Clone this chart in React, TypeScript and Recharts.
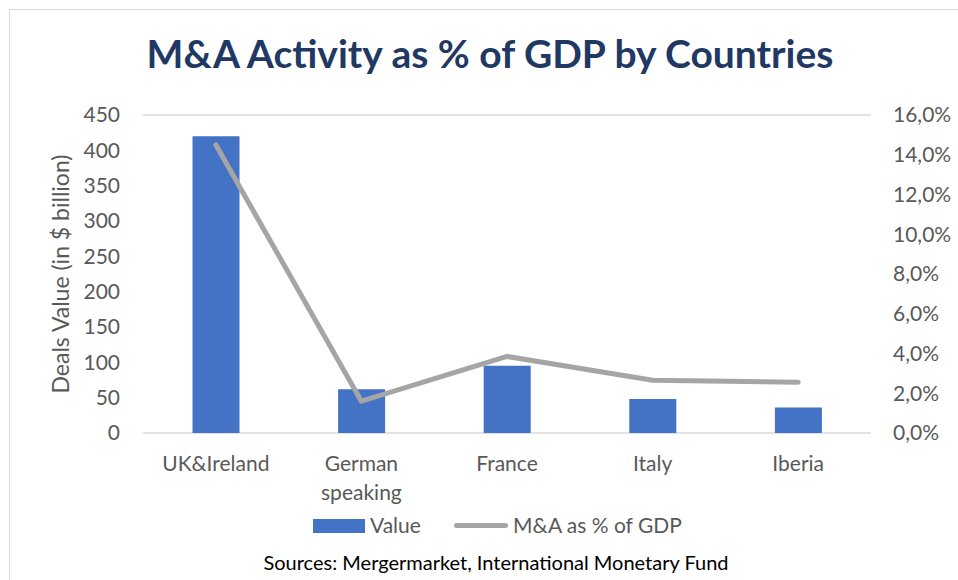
import { ComposedChart, Bar, Line, XAxis, YAxis, CartesianGrid, Label } from 'recharts'

const FONT = "Lato, 'Open Sans', sans-serif"
const AXIS_GREY = '#595959'
const BAR_BLUE = '#4472C4'
const LINE_GREY = '#A5A5A5'

const countries = ['UK&Ireland', 'German speaking', 'France', 'Italy', 'Iberia']
const dealsValue = [420, 62, 95, 48, 36]
const gdpShare = [14.5, 1.6, 3.85, 2.65, 2.55]
const leftTicks = [0, 50, 100, 150, 200, 250, 300, 350, 400, 450]
const rightTicks = [0, 2, 4, 6, 8, 10, 12, 14, 16]

const SERIES_BAR = 'Value'
const SERIES_LINE = 'M&A as % of GDP'

const data = countries.map((name, i) => ({
  name,
  value: dealsValue[i],
  pct: gdpShare[i],
}))

const pctFormat = (v: number) => v.toFixed(1).replace('.', ',') + '%'

function CategoryTick({ x, y, payload }: any) {
  const lines = String(payload.value).split(' ')
  return (
    <text x={x} y={y} textAnchor="middle" fill={AXIS_GREY} fontSize={21} fontFamily={FONT}>
      {lines.map((ln, i) => (
        <tspan key={i} x={x} dy={i === 0 ? 24 : 29}>{ln}</tspan>
      ))}
    </text>
  )
}

function LeftAxisTitle({ viewBox }: any) {
  const cy = viewBox.y + viewBox.height / 2
  return (
    <text
      x={69}
      y={cy}
      transform={`rotate(-90 69 ${cy})`}
      textAnchor="middle"
      fill={AXIS_GREY}
      fontSize={23}
      fontFamily={FONT}
    >
      Deals Value (in $ billion)
    </text>
  )
}

export default function App() {
  return (
    <div style={{ position: 'absolute', left: 0, top: 0, width: 958, height: 580, background: '#fff', overflow: 'hidden' }}>
      {/* chart frame, cut off at the right and bottom like the screenshot */}
      <div style={{ position: 'absolute', left: 9, top: 9, width: 980, height: 600, border: '1px solid #d9d9d9' }} />

      <div style={{
        position: 'absolute',
        left: 0,
        top: 34,
        width: 980,
        textAlign: 'center',
        fontFamily: FONT,
        fontWeight: 700,
        fontSize: 39,
        lineHeight: 1,
        color: '#1F3864',
      }}>
        M&amp;A Activity as % of GDP by Countries
      </div>

      <div style={{ position: 'absolute', left: 0, top: 0 }}>
        <ComposedChart
          width={958}
          height={520}
          data={data}
          margin={{ top: 115, right: 0, bottom: 27, left: 0 }}
          barCategoryGap="34%"
        >
          <CartesianGrid vertical={false} stroke="#d9d9d9" strokeWidth={1.3} />
          <XAxis
            dataKey="name"
            axisLine={false}
            tickLine={false}
            tickMargin={8}
            height={60}
            interval={0}
            tick={<CategoryTick />}
          />
          <YAxis
            yAxisId="left"
            width={143}
            domain={[0, 450]}
            ticks={leftTicks}
            axisLine={false}
            tickLine={false}
            tickMargin={17}
            tick={{ fill: AXIS_GREY, fontSize: 21, fontFamily: FONT }}
          >
            <Label content={<LeftAxisTitle />} />
          </YAxis>
          <YAxis
            yAxisId="right"
            orientation="right"
            width={87}
            domain={[0, 16]}
            ticks={rightTicks}
            axisLine={false}
            tickLine={false}
            tickMargin={16}
            tickFormatter={pctFormat}
            tick={{ fill: AXIS_GREY, fontSize: 21, fontFamily: FONT, textAnchor: 'start' }}
          />
          <Bar yAxisId="left" dataKey="value" name={SERIES_BAR} fill={BAR_BLUE} isAnimationActive={false} />
          <Line
            yAxisId="right"
            dataKey="pct"
            name={SERIES_LINE}
            type="linear"
            stroke={LINE_GREY}
            strokeWidth={5}
            strokeLinecap="round"
            strokeLinejoin="round"
            dot={false}
            activeDot={false}
            isAnimationActive={false}
          />
        </ComposedChart>
      </div>

      {/* legend */}
      <div style={{ position: 'absolute', left: 313, top: 519, width: 52, height: 14, background: BAR_BLUE }} />
      <div style={{ position: 'absolute', left: 370, top: 512, fontFamily: FONT, fontSize: 21, lineHeight: '26px', color: AXIS_GREY }}>
        {SERIES_BAR}
      </div>
      <div style={{ position: 'absolute', left: 454, top: 523, width: 54, height: 5, borderRadius: 3, background: LINE_GREY }} />
      <div style={{ position: 'absolute', left: 513, top: 512, fontFamily: FONT, fontSize: 21, lineHeight: '26px', color: AXIS_GREY }}>
        {SERIES_LINE}
      </div>

      <div style={{
        position: 'absolute',
        left: 0,
        top: 550,
        width: 992,
        textAlign: 'center',
        fontFamily: FONT,
        fontSize: 20,
        lineHeight: '24px',
        color: '#000',
      }}>
        Sources: Mergermarket, International Monetary Fund
      </div>
    </div>
  )
}
